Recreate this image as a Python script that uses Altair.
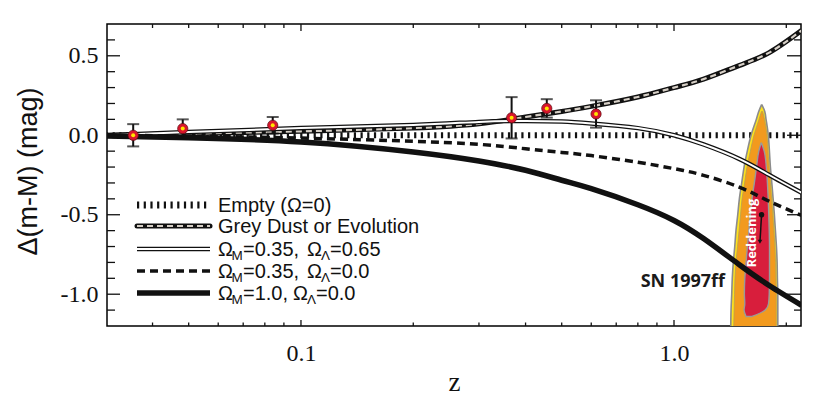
import altair as alt
import pandas as pd

# ---------------- data ----------------
z_domain = [0.0302, 2.19]
v_domain = [-1.2, 0.7]

z_grid = [0.03, 0.05, 0.1, 0.2, 0.3, 0.4, 0.5, 0.6, 0.8, 1.0, 1.2, 1.5, 1.8, 2.2]
dust_v = [0.0, 0.01, 0.025, 0.045, 0.072, 0.115, 0.15, 0.182, 0.241, 0.300, 0.353, 0.44, 0.52, 0.66]
lambda_v = [0.0, 0.02, 0.045, 0.065, 0.084, 0.09, 0.086, 0.074, 0.045, 0.0, -0.058, -0.15, -0.25, -0.362]
open_v = [0.0, -0.005, -0.018, -0.038, -0.057, -0.085, -0.108, -0.128, -0.17, -0.21, -0.252, -0.328, -0.415, -0.505]
flat_v = [-0.005, -0.016, -0.042, -0.105, -0.162, -0.22, -0.283, -0.336, -0.437, -0.536, -0.65, -0.816, -0.945, -1.07]

empty_z = [0.03, 2.2]
empty_v = [0.0, 0.0]

sn_z = [0.0355, 0.0482, 0.084, 0.367, 0.456, 0.618]
sn_v = [0.0, 0.042, 0.063, 0.11, 0.169, 0.134]
sn_err = [0.07, 0.058, 0.052, 0.13, 0.058, 0.086]

# SN 1997ff likelihood contours (delta mag, left z, right z)
outer_v = [0.19, 0.15, 0.1, 0.0, -0.1, -0.2, -0.3, -0.4, -0.5, -0.6, -0.7, -0.8, -0.9, -1.0, -1.1, -1.25]
outer_lo = [1.715, 1.687, 1.662, 1.609, 1.572, 1.541, 1.519, 1.497, 1.482, 1.466, 1.455, 1.442, 1.433, 1.428, 1.422, 1.419]
outer_hi = [1.722, 1.751, 1.765, 1.790, 1.802, 1.813, 1.829, 1.844, 1.858, 1.870, 1.882, 1.890, 1.893, 1.898, 1.898, 1.898]

orange_v = [0.15, 0.1, 0.0, -0.1, -0.2, -0.3, -0.4, -0.5, -0.6, -0.7, -0.8, -0.9, -1.0, -1.25]
orange_lo = [1.716, 1.690, 1.638, 1.602, 1.569, 1.546, 1.522, 1.508, 1.494, 1.480, 1.466, 1.457, 1.453, 1.444]
orange_hi = [1.728, 1.748, 1.776, 1.786, 1.798, 1.813, 1.827, 1.841, 1.853, 1.864, 1.872, 1.876, 1.880, 1.880]

red_v = [-0.05, -0.1, -0.2, -0.3, -0.4, -0.5, -0.6, -0.7, -0.8, -0.9, -1.0, -1.06, -1.1, -1.14]
red_lo = [1.711, 1.688, 1.664, 1.642, 1.618, 1.602, 1.588, 1.573, 1.560, 1.548, 1.544, 1.548, 1.541, 1.560]
red_hi = [1.717, 1.745, 1.768, 1.780, 1.789, 1.795, 1.800, 1.803, 1.803, 1.803, 1.800, 1.792, 1.756, 1.618]

dot_z, dot_v = [1.717], [-0.50]
arrow_z2, arrow_v2 = [1.700], [-0.67]
redden_z, redden_v = [1.623], [-0.615]
sn_label_z, sn_label_v = [1.370], [-0.953]

x_major = [0.1, 1.0]
x_minor = [0.04, 0.05, 0.06, 0.07, 0.08, 0.09, 0.2, 0.3, 0.4, 0.5, 0.6, 0.7, 0.8, 0.9, 2.0]
y_major = [-1.0, -0.5, 0.0, 0.5]
y_minor = [-1.1, -0.9, -0.8, -0.7, -0.6, -0.4, -0.3, -0.2, -0.1, 0.1, 0.2, 0.3, 0.4, 0.6]

# ---------------- chart ----------------
W, H = 694, 302
BLACK = "#111111"
SERIF = "Liberation Serif, Times New Roman, Times, serif"
SANS = "Liberation Sans, Arial, Helvetica, sans-serif"
xs = alt.Scale(type="log", domain=z_domain, nice=False)
ys = alt.Scale(domain=v_domain, nice=False, zero=False)

x_axis = alt.Axis(values=x_major, format=".1f", ticks=False, domain=False, grid=False,
                  labelFont=SERIF, labelFontSize=24, labelColor=BLACK,
                  labelPadding=34, labelBaseline="alphabetic", labelFlush=False,
                  title="z", titleFont=SERIF, titleFontSize=27, titleFontWeight="normal",
                  titleColor=BLACK, titleY=64, titleX=347, titleBaseline="alphabetic", titleAlign="center")
y_axis = alt.Axis(values=y_major, labelExpr="replace(format(datum.value, '.1f'), '\u2212', '-')",
                  ticks=False, domain=False, grid=False, labelFlush=False,
                  labelFont=SERIF, labelFontSize=24, labelColor=BLACK, labelPadding=9,
                  labelBaseline="middle",
                  title="\u0394(m-M) (mag)", titleFont=SANS, titleFontSize=27,
                  titleFontWeight="normal", titleColor=BLACK, titleX=-71, titleY=147, titleAngle=270,
                  titleBaseline="alphabetic", titleAlign="center")


def X(f):
    return alt.X(f, type="quantitative", scale=xs, axis=x_axis, title="z")


def Y(f):
    return alt.Y(f, type="quantitative", scale=ys, axis=y_axis, title="\u0394(m-M) (mag)")


curves = pd.DataFrame({"z": z_grid, "dust": dust_v, "lam": lambda_v, "open": open_v, "flat": flat_v})
empty_df = pd.DataFrame({"z": empty_z, "v": empty_v})
pts = pd.DataFrame({"z": sn_z, "v": sn_v, "err": sn_err})
pts["lo"] = pts["v"] - pts["err"]
pts["hi"] = pts["v"] + pts["err"]

SMOOTH = "natural"
layers = []

# empty universe (dotted, under the contour)
layers.append(alt.Chart(empty_df).mark_line(color=BLACK, strokeWidth=6, strokeDash=[2.2, 4.5], clip=True)
              .encode(x=X("z"), y=Y("v")))

# contours
outer_df = pd.DataFrame({"v": outer_v, "lo": outer_lo, "hi": outer_hi})
orange_df = pd.DataFrame({"v": orange_v, "lo": orange_lo, "hi": orange_hi})
red_df = pd.DataFrame({"v": red_v, "lo": red_lo, "hi": red_hi})
layers.append(alt.Chart(outer_df).mark_area(orient="horizontal", fill="#ffe21c", stroke="#8c8c8c",
                                            strokeWidth=1.6, clip=True, interpolate="monotone")
              .encode(y=Y("v"), x=X("lo"), x2="hi"))
layers.append(alt.Chart(orange_df).mark_area(orient="horizontal", fill="#f29a1e", stroke="#b8a050",
                                             strokeWidth=0.8, clip=True, interpolate="monotone")
              .encode(y=Y("v"), x=X("lo"), x2="hi"))
layers.append(alt.Chart(red_df).mark_area(orient="horizontal", fill="#d81e3c", stroke="#9a9a9a",
                                          strokeWidth=1.4, clip=True, interpolate="monotone")
              .encode(y=Y("v"), x=X("lo"), x2="hi"))

# grey dust
layers.append(alt.Chart(curves).mark_line(color=BLACK, strokeWidth=5, clip=True, interpolate=SMOOTH)
              .encode(x=X("z"), y=Y("dust")))
layers.append(alt.Chart(curves).mark_line(color="#d6cfc6", strokeWidth=2.2, strokeDash=[6, 4], clip=True,
                                          interpolate=SMOOTH)
              .encode(x=X("z"), y=Y("dust")))
# lambda model (double line)
layers.append(alt.Chart(curves).mark_line(color=BLACK, strokeWidth=4.5, clip=True, interpolate=SMOOTH)
              .encode(x=X("z"), y=Y("lam")))
layers.append(alt.Chart(curves).mark_line(color="white", strokeWidth=2, clip=True, interpolate=SMOOTH)
              .encode(x=X("z"), y=Y("lam")))
# open model (dashed)
layers.append(alt.Chart(curves).mark_line(color=BLACK, strokeWidth=3.5, strokeDash=[8, 5], clip=True,
                                          interpolate=SMOOTH)
              .encode(x=X("z"), y=Y("open")))
# flat matter (thick solid)
layers.append(alt.Chart(curves).mark_line(color=BLACK, strokeWidth=5.5, clip=True, interpolate=SMOOTH)
              .encode(x=X("z"), y=Y("flat")))

# error bars and points
layers.append(alt.Chart(pts).mark_rule(color=BLACK, strokeWidth=2).encode(x=X("z"), y=Y("lo"), y2="hi"))
layers.append(alt.Chart(pts).mark_tick(color=BLACK, orient="horizontal", size=12, thickness=2)
              .encode(x=X("z"), y=Y("hi")))
layers.append(alt.Chart(pts).mark_tick(color=BLACK, orient="horizontal", size=12, thickness=2)
              .encode(x=X("z"), y=Y("lo")))
layers.append(alt.Chart(pts).mark_point(shape="circle", filled=True, fill="#d8162c", stroke="#5a0a10",
                                        strokeWidth=0.7, size=105, opacity=1)
              .encode(x=X("z"), y=Y("v")))
layers.append(alt.Chart(pts).mark_point(shape="circle", filled=True, fill="#ffe600", size=16, opacity=1,
                                        strokeWidth=0)
              .encode(x=X("z"), y=Y("v")))

# reddening arrow
arrow_df = pd.DataFrame({"z": dot_z, "v": dot_v, "z2": arrow_z2, "v2": arrow_v2})
layers.append(alt.Chart(arrow_df).mark_rule(color=BLACK, strokeWidth=1.5)
              .encode(x=X("z"), y=Y("v"), x2="z2", y2="v2"))
layers.append(alt.Chart(arrow_df).mark_point(shape="triangle-down", filled=True, fill=BLACK, size=22,
                                             opacity=1, strokeWidth=0)
              .encode(x=X("z2"), y=Y("v2")))
layers.append(alt.Chart(arrow_df).mark_point(shape="circle", filled=True, fill=BLACK, size=30, opacity=1)
              .encode(x=X("z"), y=Y("v")))

# labels
layers.append(alt.Chart(pd.DataFrame({"z": redden_z, "v": redden_v, "t": ["Reddening"]}))
              .mark_text(angle=270, color="white", font="Open Sans", fontWeight="bold", fontSize=13,
                         align="center", baseline="middle")
              .encode(x=X("z"), y=Y("v"), text="t:N"))
layers.append(alt.Chart(pd.DataFrame({"z": sn_label_z, "v": sn_label_v, "t": ["SN 1997ff"]}))
              .mark_text(color="#1a1a1a", font="Open Sans", fontWeight="bold", fontSize=18,
                         align="right", baseline="alphabetic")
              .encode(x=X("z"), y=Y("v"), text="t:N"))

# inward ticks on all four sides
ym = pd.DataFrame({"v": y_major})
yn = pd.DataFrame({"v": y_minor})
xm = pd.DataFrame({"z": x_major})
xn = pd.DataFrame({"z": x_minor})
TW = 1.3
layers.append(alt.Chart(ym).mark_rule(color=BLACK, strokeWidth=TW).encode(y=Y("v"), x=alt.value(0), x2=alt.value(13)))
layers.append(alt.Chart(yn).mark_rule(color=BLACK, strokeWidth=TW).encode(y=Y("v"), x=alt.value(0), x2=alt.value(8)))
layers.append(alt.Chart(ym).mark_rule(color=BLACK, strokeWidth=TW).encode(y=Y("v"), x=alt.value(W), x2=alt.value(W - 14)))
layers.append(alt.Chart(yn).mark_rule(color=BLACK, strokeWidth=TW).encode(y=Y("v"), x=alt.value(W), x2=alt.value(W - 7)))
layers.append(alt.Chart(xm).mark_rule(color=BLACK, strokeWidth=TW).encode(x=X("z"), y=alt.value(H), y2=alt.value(H - 6)))
layers.append(alt.Chart(xn).mark_rule(color=BLACK, strokeWidth=TW).encode(x=X("z"), y=alt.value(H), y2=alt.value(H - 3.5)))
layers.append(alt.Chart(xm).mark_rule(color=BLACK, strokeWidth=TW).encode(x=X("z"), y=alt.value(0), y2=alt.value(7)))
layers.append(alt.Chart(xn).mark_rule(color=BLACK, strokeWidth=TW).encode(x=X("z"), y=alt.value(0), y2=alt.value(4)))

# ---------------- legend (drawn inside the plot) ----------------
one = pd.DataFrame({"k": [0]})
LX1, LX2 = 30, 103
rows = [181, 202, 225, 247, 269]


def lrule(y, **kw):
    return alt.Chart(one).mark_rule(**kw).encode(x=alt.value(LX1), x2=alt.value(LX2), y=alt.value(y))


def ltext(x, y, t, size=20):
    return alt.Chart(one).mark_text(text=t, font=SANS, fontSize=size, color=BLACK,
                                    align="left", baseline="alphabetic").encode(x=alt.value(x), y=alt.value(y))


layers.append(lrule(rows[0], color=BLACK, strokeWidth=7, strokeDash=[2.2, 4.5]))
layers.append(lrule(rows[1], color=BLACK, strokeWidth=5, strokeCap="round"))
layers.append(lrule(rows[1], color="#d6cfc6", strokeWidth=2.2, strokeDash=[6, 4]))
layers.append(lrule(rows[2], color=BLACK, strokeWidth=4.5))
layers.append(lrule(rows[2], color="white", strokeWidth=2))
layers.append(lrule(rows[3], color=BLACK, strokeWidth=3.5, strokeDash=[8, 5]))
layers.append(lrule(rows[4], color=BLACK, strokeWidth=5.5))

TB = 6.5
SUB = 4
layers.append(ltext(111, rows[0] + TB, "Empty (\u03a9=0)"))
layers.append(ltext(111, rows[1] + TB, "Grey Dust or Evolution"))
for r, tail in [(2, "=0.65"), (3, "=0.0")]:
    b = rows[r] + TB
    sx = 200
    layers.append(ltext(111, b, "\u03a9"))
    layers.append(ltext(124.5, b + SUB, "M", 13.5))
    layers.append(ltext(136, b, "=0.35,"))
    layers.append(ltext(sx, b, "\u03a9"))
    layers.append(ltext(sx + 14, b + SUB, "\u039b", 13.5))
    layers.append(ltext(sx + 23, b, tail))
b = rows[4] + TB
layers.append(ltext(111, b, "\u03a9"))
layers.append(ltext(124.5, b + SUB, "M", 13.5))
layers.append(ltext(136, b, "=1.0,"))
layers.append(ltext(186, b, "\u03a9"))
layers.append(ltext(200, b + SUB, "\u039b", 13.5))
layers.append(ltext(209, b, "=0.0"))

chart = (
    alt.layer(*layers)
    .properties(width=W, height=H, autosize=alt.AutoSizeParams(type="none"),
                padding={"left": 99, "top": 16, "right": 4, "bottom": 70})
    .configure(background="white")
    .configure_axis(labelFont=SERIF, labelFontSize=24, labelColor=BLACK)
    .configure_view(stroke="black", strokeWidth=1.5)
)

chart.save("out.html", embed_options={"renderer": "svg", "actions": False})
